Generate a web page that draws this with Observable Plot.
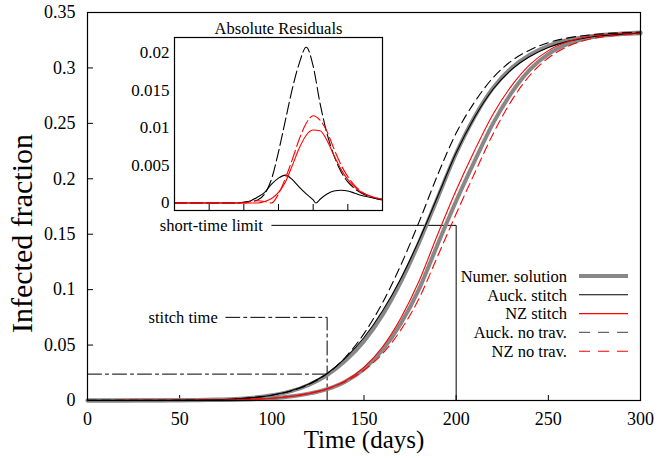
<!DOCTYPE html>
<html><head><meta charset="utf-8">
<script src="https://cdn.jsdelivr.net/npm/d3@7"></script>
<script src="https://cdn.jsdelivr.net/npm/@observablehq/plot@0.6"></script>
<style>
body{margin:0;background:#fff;}
#wrap{position:relative;width:659px;height:458px;}
#wrap svg{position:absolute;}
</style></head><body><div id="wrap"></div>
<script>
// ---------- data ----------
const days = [0,10,20,30,40,50,60,70,80,90,100,110,120,130,140,150,160,170,180,190,200,210,220,230,240,250,260,270,280,290,300];
const aucklandNumeric = [0.0001,0.0001,0.0001,0.0002,0.0002,0.0003,0.0005,0.0008,0.0014,0.0026,0.0047,0.0082,0.0140,0.0230,0.0360,0.0535,0.0770,0.1070,0.1430,0.1830,0.2230,0.2560,0.2820,0.3000,0.3120,0.3200,0.3250,0.3280,0.3300,0.3310,0.3320];
const aucklandStitch = [0.0001,0.0001,0.0001,0.0002,0.0002,0.0003,0.0005,0.0008,0.0014,0.0026,0.0048,0.0085,0.0148,0.0244,0.0385,0.0568,0.0807,0.1101,0.1451,0.1842,0.2234,0.2555,0.2808,0.2984,0.3103,0.3184,0.3237,0.3270,0.3292,0.3304,0.3315];
const aucklandNoTravel = [0.0001,0.0001,0.0001,0.0002,0.0002,0.0003,0.0005,0.0008,0.0014,0.0026,0.0048,0.0084,0.0144,0.0242,0.0392,0.0603,0.0880,0.1222,0.1616,0.2037,0.2412,0.2692,0.2912,0.3063,0.3162,0.3228,0.3269,0.3293,0.3309,0.3316,0.3324];
const nzNumeric = [0.0000,0.0000,0.0001,0.0001,0.0001,0.0002,0.0003,0.0004,0.0007,0.0012,0.0020,0.0036,0.0062,0.0103,0.0172,0.0285,0.0455,0.0695,0.1010,0.1410,0.1800,0.2160,0.2500,0.2775,0.2985,0.3125,0.3212,0.3265,0.3292,0.3305,0.3312];
const nzStitch = [0.0000,0.0000,0.0001,0.0001,0.0001,0.0002,0.0003,0.0004,0.0007,0.0012,0.0020,0.0036,0.0062,0.0105,0.0178,0.0299,0.0483,0.0745,0.1083,0.1500,0.1897,0.2256,0.2583,0.2838,0.3030,0.3156,0.3233,0.3279,0.3302,0.3312,0.3317];
const nzNoTravel = [0.0000,0.0000,0.0001,0.0001,0.0001,0.0002,0.0003,0.0004,0.0007,0.0012,0.0020,0.0038,0.0065,0.0105,0.0172,0.0273,0.0422,0.0637,0.0925,0.1304,0.1684,0.2050,0.2405,0.2703,0.2934,0.3090,0.3189,0.3250,0.3282,0.3298,0.3307];

// absolute residuals (inset)
const aucklandStitchResidualDays = [0,10,20,30,40,50,60,70,80,90,100,110,120,130,140,150,160,170,180,190,200,204,210,220,230,240,250,260,270,280,290,300];
const aucklandStitchResidual = [0,0,0,0,0,0,0,0,0,0,0.0001,0.0003,0.0008,0.0014,0.0025,0.0033,0.0037,0.0031,0.0021,0.0012,0.0004,0.0000,0.0005,0.0012,0.0016,0.0017,0.0016,0.0013,0.0010,0.0008,0.0006,0.0005];
const aucklandNoTravelResidual = [0,0,0,0,0,0,0,0,0,0,0.0001,0.0002,0.0004,0.0012,0.0032,0.0068,0.0110,0.0152,0.0186,0.0207,0.0182,0.0132,0.0092,0.0063,0.0042,0.0028,0.0019,0.0013,0.0009,0.0006,0.0004];
const nzStitchResidual = [0,0,0,0,0,0,0,0,0,0,0,0,0,0.0002,0.0006,0.0014,0.0028,0.0050,0.0073,0.0090,0.0097,0.0096,0.0083,0.0063,0.0045,0.0031,0.0021,0.0014,0.0010,0.0007,0.0005];
const nzNoTravelResidual = [0,0,0,0,0,0,0,0,0,0,0,0.0002,0.0003,0.0002,0.0000,0.0012,0.0033,0.0058,0.0085,0.0106,0.0116,0.0110,0.0095,0.0072,0.0051,0.0035,0.0023,0.0015,0.0010,0.0007,0.0005];

const xTicks = [0,50,100,150,200,250,300];
const yTicks = [0,0.05,0.1,0.15,0.2,0.25,0.3,0.35];
const insetXTicks = [50,100,150,200,250];
const insetYTicks = [0,0.005,0.01,0.015,0.02];

// annotations
const stitchTime = 130, stitchValue = 0.0238, stitchLabelLevel = 0.075, stitchLabelDay = 75;
const shortLimitTime = 200, shortLimitLevel = 0.158, shortLimitLabelDay = 100;

const legendLabels = ["Numer. solution","Auck. stitch","NZ stitch","Auck. no trav.","NZ no trav."];

// ---------- drawing ----------
const FONT = "'Liberation Serif', 'Times New Roman', serif";
const rows = (xs, ys) => xs.map((d, i) => ({day: d, value: ys[i]}));
const curve = "monotone-x";

const main = Plot.plot({
  width: 659, height: 458,
  marginLeft: 87, marginRight: 19, marginTop: 12, marginBottom: 58,
  style: {fontFamily: FONT, background: "white", color: "black", overflow: "visible"},
  x: {domain: [0, 300]},
  y: {domain: [0, 0.35]},
  marks: [
    Plot.tickX(xTicks, {x: d => d, insetTop: 383, stroke: "black"}),
    Plot.tickY(yTicks, {y: d => d, insetRight: 547, stroke: "black"}),
    Plot.axisX({ticks: xTicks, tickSize: 0, tickPadding: 12, fontSize: 18, label: null, tickFormat: d => String(d)}),
    Plot.axisY({ticks: yTicks, tickSize: 0, tickPadding: 12, fontSize: 18, label: null, tickFormat: d => String(d)}),
    // annotations
    Plot.line([[0, stitchValue], [stitchTime, stitchValue]], {stroke: "black", strokeWidth: 1, strokeDasharray: "14,4,3,4"}),
    Plot.line([[stitchLabelDay, stitchLabelLevel], [stitchTime, stitchLabelLevel], [stitchTime, 0]], {stroke: "black", strokeWidth: 1, strokeDasharray: "14,4,3,4"}),
    Plot.text(["stitch time"], {x: stitchLabelDay, y: stitchLabelLevel, text: d => d, textAnchor: "end", dx: -8, fontSize: 16.5}),
    Plot.line([[shortLimitLabelDay, shortLimitLevel], [shortLimitTime, shortLimitLevel], [shortLimitTime, 0]], {stroke: "black", strokeWidth: 1}),
    Plot.text(["short-time limit"], {x: shortLimitLabelDay, y: shortLimitLevel, text: d => d, textAnchor: "end", dx: -9, fontSize: 16.5}),
    // curves
    Plot.line(rows(days, aucklandNumeric), {x: "day", y: "value", stroke: "#888", strokeWidth: 4, curve}),
    Plot.line(rows(days, nzNumeric), {x: "day", y: "value", stroke: "#888", strokeWidth: 4, curve}),
    Plot.line(rows(days, aucklandStitch), {x: "day", y: "value", stroke: "black", strokeWidth: 1.1, curve}),
    Plot.line(rows(days, nzStitch), {x: "day", y: "value", stroke: "red", strokeWidth: 1.1, curve}),
    Plot.line(rows(days, aucklandNoTravel), {x: "day", y: "value", stroke: "black", strokeWidth: 1.1, strokeDasharray: "9,5", curve}),
    Plot.line(rows(days, nzNoTravel), {x: "day", y: "value", stroke: "red", strokeWidth: 1.1, strokeDasharray: "9,5", curve}),
    Plot.frame({stroke: "black", strokeWidth: 1.2}),
    // axis titles
    Plot.text(["Time (days)"], {frameAnchor: "bottom", text: d => d, dy: 47, fontSize: 25}),
    Plot.text(["Infected fraction"], {frameAnchor: "left", text: d => d, textAnchor: "middle", rotate: -90, dx: -65, dy: 27, fontSize: 30})
  ]
});
main.style.left = "0px"; main.style.top = "0px";

// legend
const legendStyles = [
  {stroke: "#888", width: 4, dash: null},
  {stroke: "black", width: 1.1, dash: null},
  {stroke: "red", width: 1.1, dash: null},
  {stroke: "#666", width: 1.3, dash: "11,8"},
  {stroke: "red", width: 1.1, dash: "11,8"}
];
const lg = d3.select(main).append("g").attr("font-family", FONT).attr("font-size", 16.5);
legendLabels.forEach((lab, i) => {
  const y = 276 + i * 18.8;
  lg.append("text").attr("x", 567).attr("y", y).attr("dy", "0.35em").attr("text-anchor", "end").attr("fill", "black").text(lab);
  const s = legendStyles[i];
  const ln = lg.append("line").attr("x1", 579).attr("x2", 628).attr("y1", y).attr("y2", y)
    .attr("stroke", s.stroke).attr("stroke-width", s.width);
  if (s.dash) ln.attr("stroke-dasharray", s.dash);
});

const inset = Plot.plot({
  width: 266, height: 204,
  marginLeft: 54, marginRight: 4, marginTop: 27, marginBottom: 4,
  style: {fontFamily: FONT, background: "transparent", color: "black", overflow: "visible"},
  x: {domain: [0, 300], axis: null},
  y: {domain: [-0.001, 0.022]},
  marks: [
    Plot.tickX(insetXTicks, {x: d => d, insetTop: 167, stroke: "black"}),
    Plot.axisY({ticks: insetYTicks, tickSize: 0, tickPadding: 5, fontSize: 17, label: null, tickFormat: d => String(d)}),
    Plot.line(rows(days, aucklandNoTravelResidual), {x: "day", y: "value", stroke: "black", strokeWidth: 1.1, strokeDasharray: "12,4", curve}),
    Plot.line(rows(aucklandStitchResidualDays, aucklandStitchResidual), {x: "day", y: "value", stroke: "black", strokeWidth: 1.1, curve}),
    Plot.line(rows(days, nzNoTravelResidual), {x: "day", y: "value", stroke: "red", strokeWidth: 1.1, strokeDasharray: "12,4", curve}),
    Plot.line(rows(days, nzStitchResidual), {x: "day", y: "value", stroke: "red", strokeWidth: 1.1, curve}),
    Plot.frame({stroke: "black", strokeWidth: 1.2}),
    Plot.text(["Absolute Residuals"], {frameAnchor: "top", text: d => d, dy: -15, fontSize: 16.5})
  ]
});
inset.style.left = "120px"; inset.style.top = "10px";

const wrap = document.getElementById("wrap");
wrap.appendChild(main);
wrap.appendChild(inset);
</script>
</body></html>
